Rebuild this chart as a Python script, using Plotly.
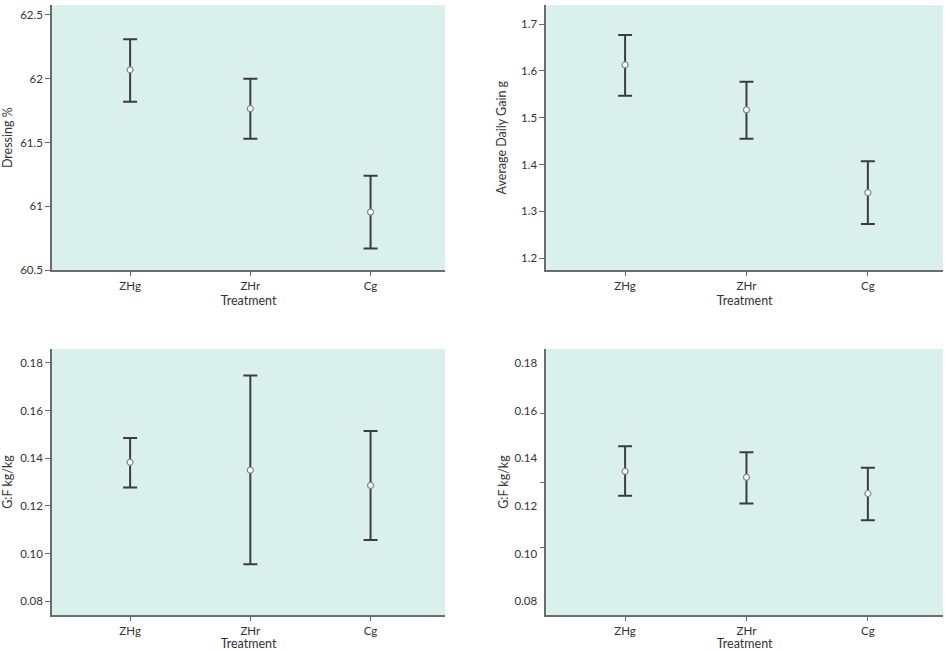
import plotly.graph_objects as go

treatments = ["ZHg", "ZHr", "Cg"]

# Panel A: Dressing %
dress_mean = [62.07, 61.765, 60.955]
dress_upper = [62.31, 62.0, 61.24]
dress_lower = [61.82, 61.53, 60.67]

# Panel B: Average Daily Gain g
adg_mean = [1.613, 1.517, 1.34]
adg_upper = [1.677, 1.577, 1.407]
adg_lower = [1.547, 1.455, 1.273]

# Panel C: G:F kg/kg
gf1_mean = [0.1383, 0.135, 0.1286]
gf1_upper = [0.1485, 0.1748, 0.1514]
gf1_lower = [0.1277, 0.0955, 0.1057]

# Panel D: G:F kg/kg
gf2_mean = [0.1345, 0.132, 0.1252]
gf2_upper = [0.145, 0.1425, 0.136]
gf2_lower = [0.1243, 0.121, 0.114]

dress_ticks = [60.5, 61, 61.5, 62, 62.5]
dress_ticktext = ["60.5", "61", "61.5", "62", "62.5"]
adg_ticks = [1.2, 1.3, 1.4, 1.5, 1.6, 1.7]
adg_ticktext = ["1.2", "1.3", "1.4", "1.5", "1.6", "1.7"]
gf_ticks = [0.08, 0.10, 0.12, 0.14, 0.16, 0.18]
gf_ticktext = ["0.08", "0.10", "0.12", "0.14", "0.16", "0.18"]
gf2_minor_ticks = [0.1025, 0.130, 0.1589]

BG = "#daf0ec"
AX = "#6b6b6b"
TXT = "#333333"
BAR = "#3c3c3c"
FONT = "Lato"

fig = go.Figure()

def add_panel(mean, upper, lower, xa, ya):
    fig.add_trace(go.Scatter(
        x=treatments, y=mean, mode="markers",
        xaxis=xa, yaxis=ya, showlegend=False,
        marker=dict(symbol="circle", size=6, color="white",
                    line=dict(color="#888888", width=1.2)),
        error_y=dict(type="data", symmetric=False,
                     array=[u - m for u, m in zip(upper, mean)],
                     arrayminus=[m - l for m, l in zip(mean, lower)],
                     color=BAR, thickness=2, width=7),
    ))

add_panel(dress_mean, dress_upper, dress_lower, "x", "y")
add_panel(adg_mean, adg_upper, adg_lower, "x2", "y2")
add_panel(gf1_mean, gf1_upper, gf1_lower, "x3", "y3")
add_panel(gf2_mean, gf2_upper, gf2_lower, "x4", "y4")
# invisible trace for the extra tick axis of panel D
fig.add_trace(go.Scatter(x=[treatments[0]], y=[gf2_mean[0]], xaxis="x4", yaxis="y5",
                         mode="markers", marker=dict(opacity=0), showlegend=False,
                         hoverinfo="skip"))

xl = [0.055, 0.471]
xr = [0.578, 0.998]
yt = [0.585, 0.992]
yb = [0.055, 0.464]
xrange = [-0.65, 2.62]

def xaxis(domain, anchor):
    return dict(domain=domain, anchor=anchor, type="category",
                categoryorder="array", categoryarray=treatments,
                range=xrange, showgrid=False, zeroline=False, automargin=False,
                showline=True, linecolor=AX, linewidth=2,
                ticks="outside", ticklen=4, tickcolor=AX, tickwidth=1,
                tickfont=dict(family=FONT, size=11.5, color=TXT),
                title=dict(text="Treatment", standoff=5,
                           font=dict(family=FONT, size=12.5, color=TXT)))

def yaxis(domain, anchor, rng, tv, tt, title, tickcolor=AX, standoff=12):
    return dict(domain=domain, anchor=anchor, range=rng, automargin=False,
                tickvals=tv, ticktext=tt, showgrid=False, zeroline=False,
                showline=True, linecolor=AX, linewidth=1.5,
                ticks="outside", ticklen=5, tickcolor=tickcolor, tickwidth=1,
                tickfont=dict(family=FONT, size=11.5, color=TXT),
                title=dict(text=title, standoff=standoff,
                           font=dict(family=FONT, size=12.5, color=TXT)))

gf_range = [0.0741, 0.1859]

fig.update_layout(
    width=945, height=651,
    margin=dict(l=0, r=0, t=0, b=0),
    paper_bgcolor="white",
    plot_bgcolor=BG,
    xaxis=xaxis(xl, "y"),
    yaxis=yaxis(yt, "x", [60.5, 62.576], dress_ticks, dress_ticktext, "Dressing %", standoff=14),
    xaxis2=xaxis(xr, "y2"),
    yaxis2=yaxis(yt, "x2", [1.1744, 1.7406], adg_ticks, adg_ticktext, "Average Daily Gain g"),
    xaxis3=xaxis(xl, "y3"),
    yaxis3=yaxis(yb, "x3", gf_range, gf_ticks, gf_ticktext, "G:F kg/kg"),
    xaxis4=xaxis(xr, "y4"),
    yaxis4=yaxis(yb, "x4", gf_range, gf_ticks, gf_ticktext, "G:F kg/kg",
                 tickcolor="rgba(0,0,0,0)", standoff=3),
    yaxis5=dict(overlaying="y4", anchor="x4", range=gf_range, automargin=False,
                tickvals=gf2_minor_ticks, showticklabels=False,
                ticks="outside", ticklen=5, tickcolor=AX, tickwidth=1,
                showgrid=False, zeroline=False, showline=False),
)

fig.write_html("out.html", config={"displayModeBar": False},
               post_script="document.body.style.margin='0';document.body.style.overflow='hidden';")
